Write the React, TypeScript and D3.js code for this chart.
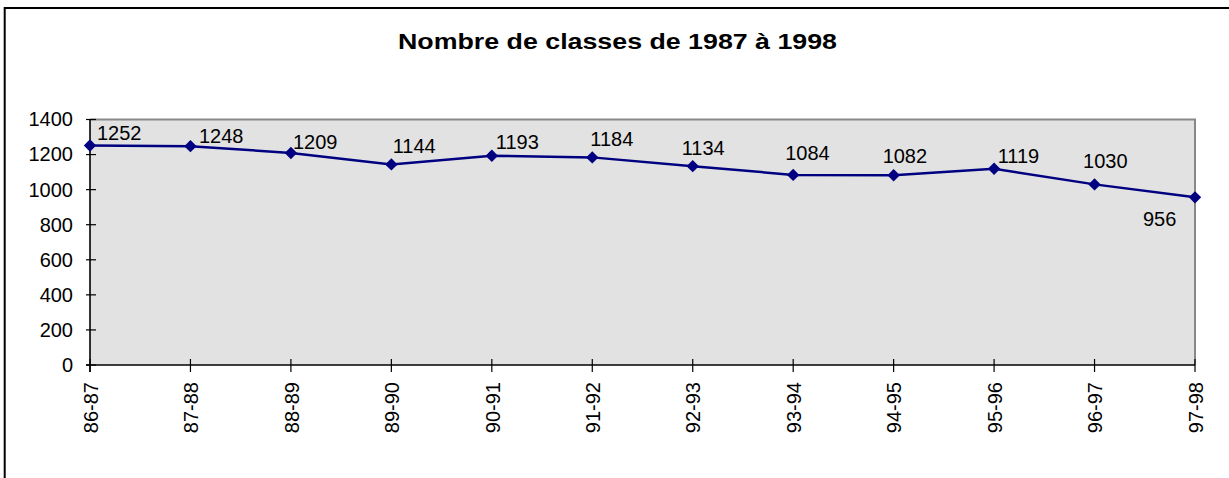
import { useEffect, useRef } from "react";
import * as d3 from "d3";

// données du graphique
const seasons = ["86-87", "87-88", "88-89", "89-90", "90-91", "91-92", "92-93", "93-94", "94-95", "95-96", "96-97", "97-98"];
const classes = [1252, 1248, 1209, 1144, 1193, 1184, 1134, 1084, 1082, 1119, 1030, 956];
const yTicks = [0, 200, 400, 600, 800, 1000, 1200, 1400];
const title = "Nombre de classes de 1987 à 1998";

// décalage des étiquettes (placées à la main dans l'original)
const labelOffsets: [number, number][] = [
  [7, -5.5], [8.5, -3], [2, -4], [1.3, -11.4], [4, -6.5], [-2, -11.4],
  [-11, -11], [-8, -15], [-11, -12.6], [3.6, -6], [-11.5, -16.7], [-52, 28.6],
];

const W = 1229;
const H = 478;
const FONT = "'Liberation Sans', Arial, sans-serif";

export default function App() {
  const svgRef = useRef<SVGSVGElement>(null);

  useEffect(() => {
    if (!svgRef.current) return;
    const svg = d3.select(svgRef.current);
    svg.selectAll("*").remove();

    const left = 90, right = 1195, top = 119.5, bottom = 365;

    const x = d3.scalePoint<string>().domain(seasons).range([left, right]);
    const y = d3.scaleLinear().domain([0, 1400]).range([bottom, top]);

    // cadre extérieur
    svg.append("path")
      .attr("d", `M4.7,${H + 10} V8 H${W + 10}`)
      .attr("fill", "none")
      .attr("stroke", "#000")
      .attr("stroke-width", 2);

    // titre (la police d'origine est plus large que Liberation Sans)
    svg.append("text")
      .attr("x", 398)
      .attr("y", 48.5)
      .attr("font-family", FONT)
      .attr("font-weight", "bold")
      .attr("font-size", 22.5)
      .attr("textLength", 439)
      .attr("lengthAdjust", "spacingAndGlyphs")
      .text(title);

    // zone de tracé
    svg.append("rect")
      .attr("x", left)
      .attr("y", top)
      .attr("width", right - left)
      .attr("height", bottom - top)
      .attr("fill", "#e2e2e2");
    svg.append("path")
      .attr("d", `M${left},${top} H${right} V${bottom}`)
      .attr("fill", "none")
      .attr("stroke", "#888")
      .attr("stroke-width", 2);

    // axe y
    const yAxis = svg.append("g")
      .attr("transform", `translate(${left},0)`)
      .call(d3.axisLeft(y).tickValues(yTicks).tickSize(0).tickPadding(17).tickFormat(d3.format("d")));
    yAxis.select(".domain").remove();
    yAxis.selectAll("text")
      .attr("font-family", FONT)
      .attr("font-size", 20)
      .attr("fill", "#000");
    svg.append("g")
      .selectAll("line")
      .data(yTicks)
      .join("line")
      .attr("x1", left - 4)
      .attr("x2", left + 6)
      .attr("y1", (d) => y(d))
      .attr("y2", (d) => y(d))
      .attr("stroke", "#000")
      .attr("stroke-width", 1.2);

    // axe x
    const xAxis = svg.append("g")
      .attr("transform", `translate(0,${bottom})`)
      .call(d3.axisBottom(x).tickSize(0));
    xAxis.select(".domain").remove();
    xAxis.selectAll("text")
      .attr("font-family", FONT)
      .attr("font-size", 20)
      .attr("fill", "#000")
      .attr("transform", "rotate(-90)")
      .attr("text-anchor", "end")
      .attr("x", -17)
      .attr("y", 0)
      .attr("dy", "0.36em");
    svg.append("g")
      .selectAll("line")
      .data(seasons)
      .join("line")
      .attr("x1", (d) => x(d)!)
      .attr("x2", (d) => x(d)!)
      .attr("y1", bottom - 6)
      .attr("y2", bottom + 7)
      .attr("stroke", "#000")
      .attr("stroke-width", 1.2);

    svg.append("line")
      .attr("x1", left).attr("x2", left)
      .attr("y1", top).attr("y2", bottom + 7)
      .attr("stroke", "#000").attr("stroke-width", 1.6);
    svg.append("line")
      .attr("x1", left - 4).attr("x2", right)
      .attr("y1", bottom).attr("y2", bottom)
      .attr("stroke", "#000").attr("stroke-width", 1.6);

    // série
    const line = d3.line<number>()
      .x((_, i) => x(seasons[i])!)
      .y((d) => y(d));
    svg.append("path")
      .datum(classes)
      .attr("d", line)
      .attr("fill", "none")
      .attr("stroke", "#000080")
      .attr("stroke-width", 2.5);

    const diamond = d3.symbol().type(d3.symbolDiamond2).size(98);
    svg.append("g")
      .selectAll("path")
      .data(classes)
      .join("path")
      .attr("d", diamond)
      .attr("transform", (d, i) => `translate(${x(seasons[i])},${y(d)})`)
      .attr("fill", "#000080");

    // étiquettes
    svg.append("g")
      .selectAll("text")
      .data(classes)
      .join("text")
      .attr("x", (d, i) => x(seasons[i])! + labelOffsets[i][0])
      .attr("y", (d, i) => y(d) + labelOffsets[i][1])
      .attr("font-family", FONT)
      .attr("font-size", 20)
      .attr("fill", "#000")
      .text((d) => d);
  }, []);

  return (
    <div style={{ position: "absolute", left: 0, top: 0, width: W, height: H, background: "#fff" }}>
      <svg ref={svgRef} width={W} height={H}></svg>
    </div>
  );
}
